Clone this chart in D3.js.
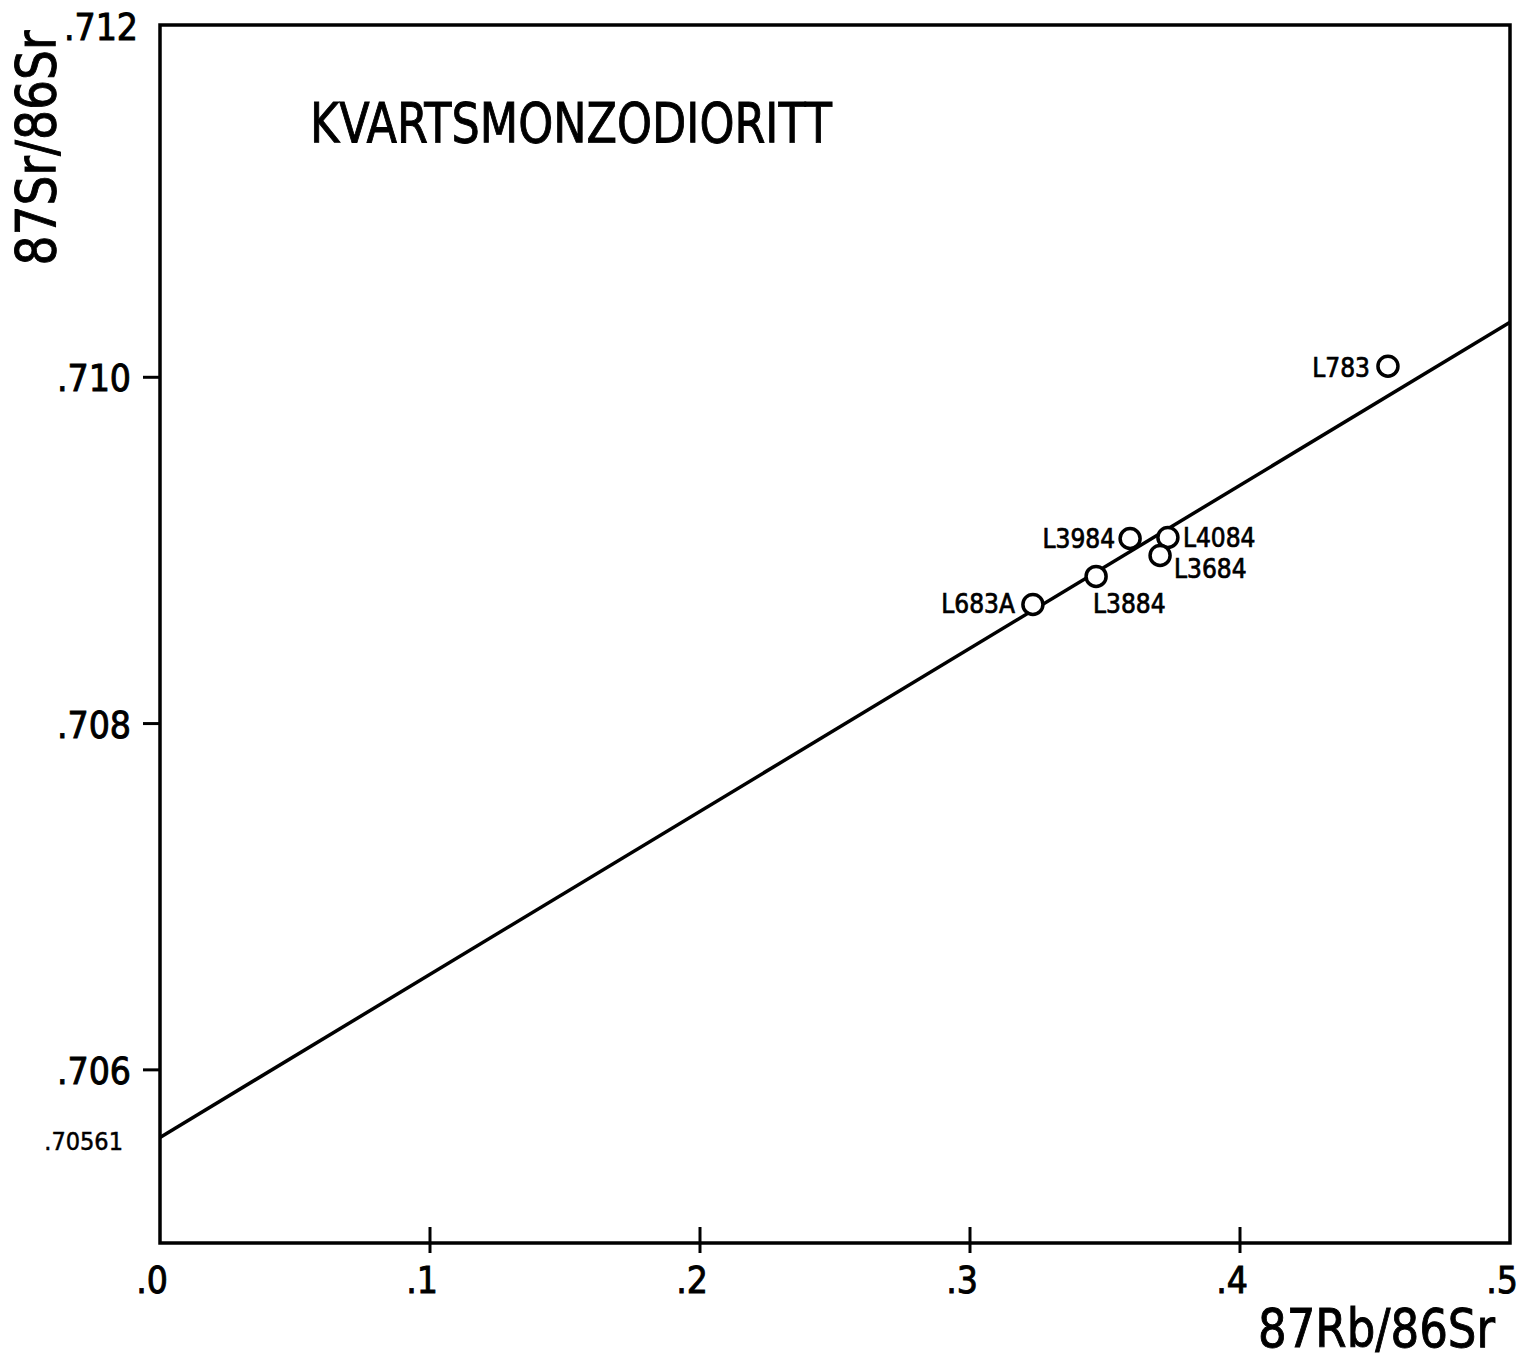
<!DOCTYPE html>
<html>
<head>
<meta charset="utf-8">
<script src="https://cdn.jsdelivr.net/npm/d3@7"></script>
<style>
  body { margin: 0; background: #fff; }
  svg text { font-family: "DejaVu Sans Condensed", "DejaVu Sans", sans-serif; font-stretch: condensed; fill: #000; stroke: #000; stroke-width: 0.9px; }
</style>
</head>
<body>
<div id="chart"></div>
<script>
// sample data: 87Rb/86Sr vs 87Sr/86Sr
const samples = ["L783", "L3984", "L4084", "L3684", "L3884", "L683A"];
const rbSr = [0.4548, 0.3593, 0.3733, 0.3704, 0.3467, 0.3233];
const srSr = [0.710064, 0.709069, 0.709075, 0.708971, 0.708850, 0.708688];

// isochron
const intercept = 0.70561;
const slope = 0.009416;

const xTicks = [0, 0.1, 0.2, 0.3, 0.4, 0.5];
const xTickLabels = [".0", ".1", ".2", ".3", ".4", ".5"];
const yTicks = [0.706, 0.708, 0.710, 0.712];
const yTickLabels = [".706", ".708", ".710", ".712"];

const width = 1528, height = 1359;
const margin = {top: 25, right: 18, bottom: 116, left: 160};

// label placement relative to point: [dx, dy, anchor]
const labelPos = {
  "L783":  [-18, 11, "end"],
  "L3984": [-15, 10, "end"],
  "L4084": [15, 10, "start"],
  "L3684": [14, 23, "start"],
  "L3884": [-3, 37, "start"],
  "L683A": [-18, 9, "end"]
};

let svg = d3.select("#chart").append("svg")
  .attr("width", width)
  .attr("height", height);

let x = d3.scaleLinear().domain([0, 0.5]).range([margin.left, width - margin.right]);
let y = d3.scaleLinear().domain([0.705, 0.712]).range([height - margin.bottom, 31]);

//frame
svg.append("rect")
  .attr("x", x(0))
  .attr("y", margin.top)
  .attr("width", x(0.5) - x(0))
  .attr("height", y(0.705) - margin.top)
  .attr("fill", "none")
  .attr("stroke", "#000")
  .attr("stroke-width", 3.5);

//x ticks (cross the axis)
svg.selectAll(".xtick")
  .data(xTicks.slice(1, -1))
  .enter()
  .append("line")
    .attr("x1", d => x(d)).attr("x2", d => x(d))
    .attr("y1", y(0.705) - 16).attr("y2", y(0.705) + 10)
    .attr("stroke", "#000").attr("stroke-width", 3);

svg.selectAll(".xlab")
  .data(xTicks)
  .enter()
  .append("text")
    .attr("x", d => x(d) + 8)
    .attr("y", y(0.705) + 50)
    .attr("text-anchor", "end")
    .style("font-size", "37px")
    .text((d, i) => xTickLabels[i]);

//y ticks (outside)
svg.selectAll(".ytick")
  .data(yTicks.slice(0, -1))
  .enter()
  .append("line")
    .attr("x1", x(0) - 17).attr("x2", x(0))
    .attr("y1", d => y(d)).attr("y2", d => y(d))
    .attr("stroke", "#000").attr("stroke-width", 3);

svg.selectAll(".ylab")
  .data(yTicks)
  .enter()
  .append("text")
    .attr("x", (d, i) => i == yTicks.length - 1 ? x(0) - 22 : x(0) - 29)
    .attr("y", (d, i) => i == yTicks.length - 1 ? y(d) + 9 : y(d) + 14)
    .attr("text-anchor", "end")
    .style("font-size", "37px")
    .text((d, i) => yTickLabels[i]);

// intercept label
svg.append("text")
  .attr("x", x(0) - 37)
  .attr("y", y(intercept) + 13)
  .attr("text-anchor", "end")
  .style("font-size", "25px")
  .style("stroke-width", "0.5px")
  .text(".70561");

//axis titles
svg.append("text")
  .attr("x", x(0.5) - 15)
  .attr("y", 1347)
  .attr("text-anchor", "end")
  .attr("textLength", 237)
  .attr("lengthAdjust", "spacingAndGlyphs")
  .style("font-size", "54px")
  .text("87Rb/86Sr");

svg.append("text")
  .attr("transform", "translate(55,148) rotate(-90)")
  .attr("text-anchor", "middle")
  .attr("textLength", 235)
  .attr("lengthAdjust", "spacingAndGlyphs")
  .style("font-size", "55px")
  .text("87Sr/86Sr");

//chart title
svg.append("text")
  .attr("x", 310)
  .attr("y", 142)
  .attr("textLength", 522)
  .attr("lengthAdjust", "spacingAndGlyphs")
  .style("font-size", "55px")
  .text("KVARTSMONZODIORITT");

//isochron line
svg.append("line")
  .attr("x1", x(0)).attr("y1", y(intercept))
  .attr("x2", x(0.5)).attr("y2", y(intercept + slope * 0.5))
  .attr("stroke", "#000").attr("stroke-width", 3.5);

//points
let pts = svg.selectAll(".pt")
  .data(samples)
  .enter()
  .append("g")
    .attr("class", "pt")
    .attr("transform", (d, i) => "translate(" + x(rbSr[i]) + "," + y(srSr[i]) + ")");

pts.append("circle")
  .attr("r", 10)
  .attr("fill", "#fff")
  .attr("stroke", "#000")
  .attr("stroke-width", 3.5);

pts.append("text")
  .attr("x", d => labelPos[d][0])
  .attr("y", d => labelPos[d][1])
  .attr("text-anchor", d => labelPos[d][2])
  .style("font-size", "26px")
  .style("stroke-width", "0.7px")
  .text(d => d);
</script>
</body>
</html>
